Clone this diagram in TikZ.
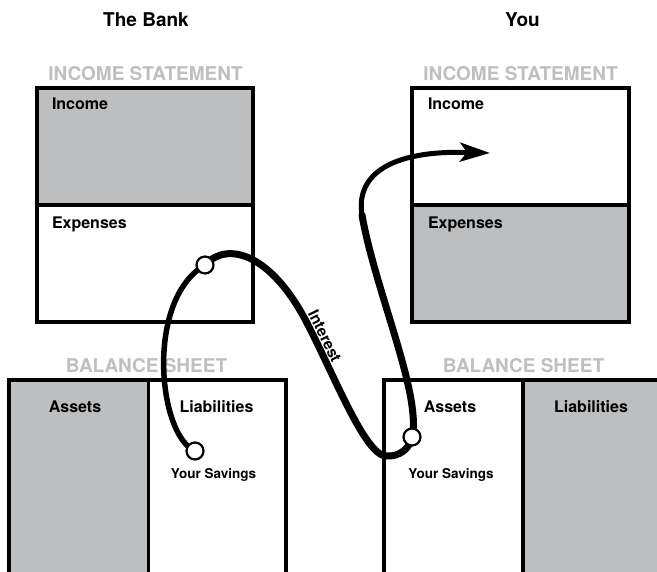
\documentclass[tikz,border=0pt]{standalone}
\usepackage{fontspec}
\setmainfont{TeX Gyre Heros}
\usetikzlibrary{arrows.meta}
\definecolor{boxgray}{RGB}{189,190,192}
\definecolor{titlegray}{RGB}{190,191,193}
\begin{document}
\begin{tikzpicture}[x=1bp,y=-1bp,
  frame/.style={draw=black, line width=3.5bp},
  txt/.style={inner sep=0pt, outer sep=0pt},
  head/.style={txt, font=\fontsize{19bp}{22bp}\selectfont\bfseries, anchor=base},
  section/.style={txt, font=\fontsize{19bp}{22bp}\selectfont\bfseries, text=titlegray, anchor=base},
  lab/.style={txt, font=\fontsize{16bp}{19bp}\selectfont\bfseries, anchor=base west},
  clab/.style={txt, font=\fontsize{16bp}{19bp}\selectfont\bfseries, anchor=base},
  sav/.style={txt, font=\fontsize{13.5bp}{16bp}\selectfont\bfseries, anchor=base},
  dot/.style={circle, draw=black, fill=white, line width=2.2bp, minimum size=17bp, inner sep=0pt},
  flow/.style={draw=black, line width=7bp, line cap=round, line join=round}
]
\clip (0,0) rectangle (657,572);
\fill[white] (0,0) rectangle (657,572);

% Income statements
\fill[boxgray] (37,88) rectangle (253,205);
\draw[frame] (37,88) rectangle (253,322);
\draw[frame] (37,205) -- (253,205);
\fill[boxgray] (412,205) rectangle (629,322);
\draw[frame] (412,88) rectangle (629,322);
\draw[frame] (412,205) -- (629,205);

% Balance sheets
\fill[boxgray] (9,380) rectangle (148.5,580);
\draw[frame] (9,580) -- (9,380) -- (286,380) -- (286,580);
\draw[frame] (148.5,380) -- (148.5,580);
\fill[boxgray] (523,380) rectangle (665,580);
\draw[frame] (384,580) -- (384,380) -- (665,380);
\draw[frame] (523,380) -- (523,580);

% Titles and labels
\node[head] (bank) at (146,27) {The Bank};
\node[head] (you) at (522.5,27) {You};
\node[section] (isl) at (145.5,81) {INCOME STATEMENT};
\node[section] (isr) at (520.5,81) {INCOME STATEMENT};
\node[section] (bsl) at (146.5,372) {BALANCE SHEET};
\node[section] (bsr) at (523.5,372) {BALANCE SHEET};
\node[lab] (incl) at (52,110) {Income};
\node[lab] (expl) at (52,228) {Expenses};
\node[lab] (incr) at (428,110) {Income};
\node[lab] (expr) at (428,228) {Expenses};
\node[clab] (asl) at (75,412) {Assets};
\node[clab] (lil) at (216.5,412) {Liabilities};
\node[clab] (asr) at (450,412) {Assets};
\node[clab] (lir) at (591,412) {Liabilities};
\node[sav] (svl) at (213.5,478) {Your Savings};
\node[sav] (svr) at (451,478) {Your Savings};

% Flow of interest
\coordinate (A) at (195,451);
\coordinate (B) at (205,265);
\coordinate (S) at (307,323);
\coordinate (L) at (386,456);
\coordinate (C) at (412,437);
\coordinate (U) at (362,215);
\coordinate (T) at (490,153);

\draw[flow, line width=5.5bp] (A) .. controls (158,435) and (145,300) .. (B);
\draw[flow] (B) .. controls (228,240) and (272,255) .. (S)
  .. controls (335,377) and (365,455) .. (L)
  .. controls (400,457) and (410,448) .. (C);
\draw[flow, line width=7bp] (C) .. controls (422,395) and (375,290) .. (U);
\draw[flow, line width=5bp, -{Stealth[length=30bp,width=19bp,inset=7bp]}]
  (U) .. controls (356,178) and (385,150) .. (T);

\node[dot] (a) at (A) {};
\node[dot] (b) at (B) {};
\node[dot] (c) at (C) {};

\node[txt, font=\fontsize{15.5bp}{18bp}\selectfont\bfseries, rotate=-64] (int) at (325,336) {Interest};
\end{tikzpicture}
\end{document}
